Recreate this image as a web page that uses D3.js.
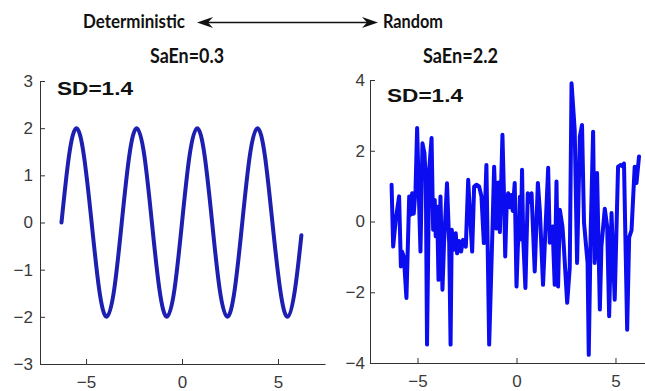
<!DOCTYPE html>
<html>
<head>
<meta charset="utf-8">
<script src="https://cdn.jsdelivr.net/npm/d3@7"></script>
<style>
  html, body { margin: 0; padding: 0; background: #fff; }
  svg { display: block; }
  .tick text { font-family: "Liberation Sans", Arial, sans-serif; font-size: 17px; fill: #3a3a3a; }
  .tick line, .domain { stroke: #333; }
</style>
</head>
<body>
<div id="chart"></div>
<script>
// Left panel: deterministic sine
const sineX = [-6.28, -5.89, -5.50, -5.11, -4.71, -4.32, -3.93, -3.53, -3.14, -2.75, -2.36, -1.96,
  -1.57, -1.18, -0.79, -0.39, 0, 0.39, 0.79, 1.18, 1.57, 1.96, 2.36, 2.75, 3.14, 3.53, 3.93, 4.32,
  4.71, 5.11, 5.50, 5.89, 6.22];
const sineY = [0, 1.41, 2, 1.41, 0, -1.41, -2, -1.41, 0, 1.41, 2, 1.41, 0, -1.41, -2, -1.41,
  0, 1.41, 2, 1.41, 0, -1.41, -2, -1.41, 0, 1.41, 2, 1.41, 0, -1.41, -2, -1.41, -0.27];

// Right panel: random series, vertices
const noiseX = [-6.31, -6.23, -6.10, -5.93, -5.84, -5.78, -5.69, -5.56, -5.42, -5.35, -5.27, -5.19,
  -5.10, -5.02, -4.92, -4.85, -4.75, -4.65, -4.58, -4.52, -4.41, -4.29, -4.21, -4.13, -4.08, -4.01,
  -3.94, -3.84, -3.74, -3.66, -3.51, -3.40, -3.33, -3.27, -3.17, -3.07, -3.00, -2.90, -2.80, -2.70,
  -2.56, -2.44, -2.36, -2.24, -2.14, -2.02, -1.89, -1.77, -1.65, -1.52, -1.38, -1.21, -1.13, -1.02,
  -0.92, -0.84, -0.71, -0.63, -0.57, -0.49, -0.42, -0.34, -0.26, -0.19, -0.09, 0.00, 0.07, 0.12,
  0.17, 0.22, 0.28, 0.34, 0.45, 0.57, 0.65, 0.76, 0.92, 1.08, 1.18, 1.34, 1.60, 1.68, 1.82, 1.93,
  2.02, 2.10, 2.19, 2.32, 2.39, 2.56, 2.69, 2.78, 2.94, 3.06, 3.20, 3.31, 3.41, 3.59, 3.65, 3.75,
  3.87, 3.95, 4.07, 4.21, 4.29, 4.46, 4.58, 4.68, 4.80, 4.96, 5.13, 5.27, 5.38, 5.43, 5.59, 5.69,
  5.81, 5.97, 6.06, 6.19];
const noiseY = [1.04, -0.71, 0.05, 0.71, -1.27, -0.85, -1.0, -2.16, 0.71, 0.19, 0.8, 0.22,
  0.9, 2.64, 0.52, -0.85, 2.21, 1.93, 1.18, -3.48, 1.46, 2.36, -0.23, 0.61, -0.42, 0.42,
  -1.65, 0.71, -1.93, -0.61, 1.08, -0.61, -3.48, -0.23, -0.8, -0.33, -0.9, -0.55, -0.85, -0.52,
  -0.71, 1.18, 0.33, -0.85, 0.99, 1.04, 0.99, 0.71, -0.61, 1.6, -3.48, -0.14, 1.55, -0.2,
  1.1, -0.3, 2.45, 0.7, -0.99, 0.6, 0.8, 0.4, 0.75, 0.3, 1.09, -1.84, -0.7, -0.3,
  0.7, -0.5, 1.46, -0.5, -1.88, 0.8, 0.55, 0.8, -1.41, 1.09, 0.3, -1.79, 1.52, -0.6, -0.14, -1.79,
  1.13, -1.84, 0.33, -0.14, -0.7, -2.3, -1.3, 3.91, 2.59, -1.17, 2.4, 2.73, -0.03, -1.17, -3.77, -0.2,
  2.54, -1.17, 1.37, -2.49, -0.7, 0.36, -0.14, -2.68, 0.24, -2.21, 1.55, 1.6, 1.55, 1.64, -3.06, -0.45,
  -0.25, 1.55, 1.09, 1.84];

const leftYTicks = [-3, -2, -1, 0, 1, 2, 3];
const rightYTicks = [-4, -2, 0, 2, 4];
const xTicks = [-5, 0, 5];

const width = 645, height = 391;
const svg = d3.select('#chart').append('svg')
  .attr('width', width)
  .attr('height', height);

const fmt = d3.format('d');

function panel(opts) {
  const x = d3.scaleLinear().domain(opts.xDomain).range(opts.xRange);
  const y = d3.scaleLinear().domain(opts.yDomain).range(opts.yRange);

  // x axis (ticks point inward like MATLAB)
  const gx = svg.append('g')
    .attr('transform', `translate(0,${opts.yRange[0]})`)
    .call(d3.axisBottom(x).tickValues(xTicks).tickFormat(fmt)
      .tickSizeInner(-5).tickSizeOuter(0).tickPadding(12));
  gx.selectAll('.tick text').attr('dy', '0.71em');

  svg.append('g')
    .attr('transform', `translate(${opts.xRange[0]},0)`)
    .call(d3.axisLeft(y).tickValues(opts.yTicks).tickFormat(fmt)
      .tickSizeInner(-5).tickSizeOuter(0).tickPadding(opts.yPad));

  const line = d3.line()
    .x((d, i) => x(opts.xs[i]))
    .y(d => y(d))
    .curve(opts.curve);

  svg.append('path')
    .datum(opts.ys)
    .attr('fill', 'none')
    .attr('stroke', opts.color)
    .attr('stroke-width', opts.lineWidth)
    .attr('stroke-linejoin', 'round')
    .attr('stroke-linecap', 'round')
    .attr('d', line);

  svg.append('text')
    .attr('x', opts.sdPos[0])
    .attr('y', opts.sdPos[1])
    .attr('font-family', '"Liberation Sans", Arial, sans-serif')
    .attr('font-weight', 'bold')
    .attr('font-size', 19)
    .attr('fill', '#111')
    .attr('textLength', 76)
    .attr('lengthAdjust', 'spacingAndGlyphs')
    .text('SD=1.4');
}

panel({
  xDomain: [-7.4, 7.45], xRange: [40, 325],
  yDomain: [-3, 3], yRange: [364, 81],
  yTicks: leftYTicks, yPad: 7,
  xs: sineX, ys: sineY,
  curve: d3.curveNatural,
  color: '#1d1fb0', lineWidth: 4,
  sdPos: [57, 95]
});

panel({
  xDomain: [-7.4, 7.4], xRange: [370, 663],
  yDomain: [-4, 4], yRange: [363, 80],
  yTicks: rightYTicks, yPad: 5,
  xs: noiseX, ys: noiseY,
  curve: d3.curveLinear,
  color: '#0c0cf0', lineWidth: 4,
  sdPos: [387, 102]
});

// header labels
const headFont = '"Lato", "Open Sans", sans-serif';
function label(txt, xPos, yPos, size, len) {
  svg.append('text')
    .attr('x', xPos).attr('y', yPos)
    .attr('font-family', headFont)
    .attr('font-weight', 'bold')
    .attr('font-size', size)
    .attr('fill', '#111')
    .attr('textLength', len)
    .attr('lengthAdjust', 'spacingAndGlyphs')
    .text(txt);
}
label('Deterministic', 83, 28, 19.5, 102);
label('Random', 383, 28, 19.5, 60);
label('SaEn=0.3', 150, 63, 21, 74);
label('SaEn=2.2', 423, 63, 21, 75);

// double-headed arrow between the two labels
const arrowY = 22.5, arrowL = 197, arrowR = 378;
svg.append('line')
  .attr('x1', arrowL + 8).attr('x2', arrowR - 8)
  .attr('y1', arrowY).attr('y2', arrowY)
  .attr('stroke', '#111').attr('stroke-width', 1.3);
const head = (tip, dir) =>
  `M${tip},${arrowY} L${tip - dir * 16},${arrowY - 5.5} L${tip - dir * 11},${arrowY} L${tip - dir * 16},${arrowY + 5.5} Z`;
svg.append('path').attr('d', head(arrowL, -1)).attr('fill', '#111');
svg.append('path').attr('d', head(arrowR, 1)).attr('fill', '#111');
</script>
</body>
</html>
